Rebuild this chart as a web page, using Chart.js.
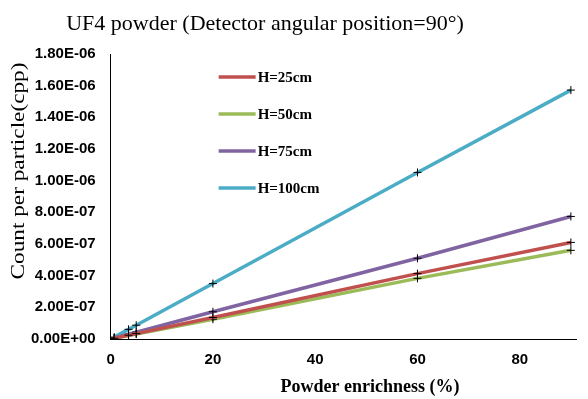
<!DOCTYPE html>
<html>
<head>
<meta charset="utf-8">
<script src="https://cdn.jsdelivr.net/npm/chart.js@4.4.0/dist/chart.umd.min.js"></script>
<style>
  html, body { margin: 0; padding: 0; background: #fff; }
  #wrap { width: 588px; height: 399px; }
</style>
</head>
<body>
<div id="wrap"><canvas id="chart" width="588" height="399"></canvas></div>
<script>
// enrichment values (%) on the x axis
const enrichment = [0.7, 3.5, 5, 20, 60, 90];

// count per particle for each detector height
const h25 = [0.005e-6, 0.024e-6, 0.034e-6, 0.136e-6, 0.413e-6, 0.610e-6];
const h50 = [0.004e-6, 0.022e-6, 0.031e-6, 0.125e-6, 0.383e-6, 0.560e-6];
const h75 = [0.006e-6, 0.030e-6, 0.043e-6, 0.172e-6, 0.510e-6, 0.774e-6];
const h100 = [0.012e-6, 0.061e-6, 0.087e-6, 0.350e-6, 1.052e-6, 1.572e-6];

const seriesLabels = ["H=25cm", "H=50cm", "H=75cm", "H=100cm"];
const seriesColors = ["#C0504D", "#9BBB59", "#8064A2", "#4BACC6"];

const yTickLabels = ["0.00E+00", "2.00E-07", "4.00E-07", "6.00E-07", "8.00E-07",
    "1.00E-06", "1.20E-06", "1.40E-06", "1.60E-06", "1.80E-06"];
const xTickLabels = ["0", "20", "40", "60", "80"];

const chartTitle = "UF4 powder (Detector angular position=90°)";
const xTitle = "Powder enrichness (%)";
const yTitle = "Count per particle(cpp)";

function toPoints(values) {
    return values.map((v, i) => ({ x: enrichment[i], y: v }));
}

const datasets = [h25, h50, h75, h100].map((vals, i) => ({
    label: seriesLabels[i],
    data: toPoints(vals),
    borderColor: seriesColors[i],
    backgroundColor: seriesColors[i],
    borderWidth: 3.5,
    pointStyle: "cross",
    pointRadius: 4,
    pointBorderColor: "#000",
    pointBorderWidth: 1,
    showLine: true,
    fill: false,
    tension: 0
}));

// the titles sit off-centre in the original, so draw them by hand
const titles = {
    id: "titles",
    afterDraw(chart) {
        const ctx = chart.ctx;
        ctx.save();
        ctx.fillStyle = "#000";
        ctx.textAlign = "center";
        ctx.textBaseline = "middle";
        ctx.font = "22px 'Liberation Serif'";
        ctx.fillText(chartTitle, 265, 24);

        ctx.font = "bold 18px 'Liberation Serif'";
        ctx.fillText(xTitle, 370, 387);

        ctx.translate(19, 171);
        ctx.rotate(-Math.PI / 2);
        ctx.font = "19px 'Liberation Serif'";
        const w = ctx.measureText(yTitle).width;
        ctx.scale(217 / w, 1);
        ctx.fillText(yTitle, 0, 0);
        ctx.restore();
    }
};

// legend drawn inside the plot area, stacked like the original
const insideLegend = {
    id: "insideLegend",
    afterDatasetsDraw(chart) {
        const ctx = chart.ctx;
        const area = chart.chartArea;
        const x0 = area.left + 108;
        let y = area.top + 23;
        ctx.save();
        ctx.font = "bold 15px 'Liberation Serif'";
        ctx.textBaseline = "middle";
        chart.data.datasets.forEach(ds => {
            ctx.strokeStyle = ds.borderColor;
            ctx.lineWidth = 3.5;
            ctx.beginPath();
            ctx.moveTo(x0, y);
            ctx.lineTo(x0 + 37, y);
            ctx.stroke();
            ctx.fillStyle = "#000";
            ctx.fillText(ds.label, x0 + 39, y + 1);
            y += 37;
        });
        ctx.restore();
    }
};

new Chart(document.getElementById("chart").getContext("2d"), {
    type: "scatter",
    data: { datasets },
    options: {
        responsive: false,
        animation: false,
        layout: { padding: { left: 16, right: 0, top: 54, bottom: 18 } },
        plugins: {
            legend: { display: false },
            tooltip: { enabled: false },
            title: { display: false }
        },
        scales: {
            x: {
                type: "linear",
                min: 0,
                max: 91,
                grid: { display: false, drawTicks: false },
                border: { display: true, color: "#000", width: 1 },
                ticks: {
                    stepSize: 20,
                    color: "#000",
                    padding: 12,
                    maxRotation: 0,
                    font: { family: "'Liberation Sans'", size: 15, weight: "bold" },
                    callback: (v) => (v % 20 === 0 ? xTickLabels[v / 20] : "")
                }
            },
            y: {
                min: 0,
                max: 1.8e-6,
                grid: { display: false, drawTicks: false },
                border: { display: true, color: "#000", width: 1 },
                ticks: {
                    stepSize: 2e-7,
                    color: "#000",
                    padding: 15,
                    font: { family: "'Liberation Sans'", size: 15, weight: "bold" },
                    callback: (v, i) => yTickLabels[i]
                }
            }
        }
    },
    plugins: [insideLegend, titles]
});
</script>
</body>
</html>
